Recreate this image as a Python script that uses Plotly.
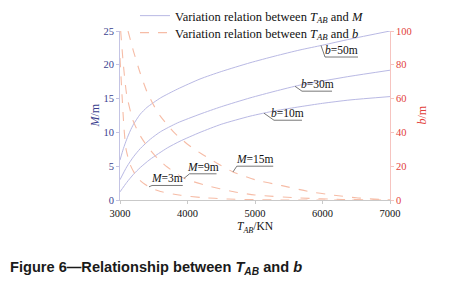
import numpy as np
import plotly.graph_objects as go

# ---- data ----
# M (m) versus T_AB (kN) for fixed b
T_b10 = [3000, 3100, 3200, 3300, 3444, 3700, 3889, 4185, 4500, 4926, 5300, 5667, 6000, 6407, 7000]
M_b10 = [1.2, 2.6, 3.8, 4.8, 6.0, 7.7, 8.7, 10.0, 11.2, 12.4, 13.2, 13.8, 14.3, 14.8, 15.3]
T_b30 = [3000, 3100, 3200, 3300, 3450, 3600, 3850, 4185, 4500, 4926, 5300, 5667, 6000, 6407, 7000]
M_b30 = [3.0, 4.9, 6.4, 7.6, 9.0, 10.1, 11.4, 12.7, 13.8, 15.1, 16.1, 17.0, 17.6, 18.3, 19.2]
T_b50 = [3000, 3050, 3100, 3150, 3200, 3300, 3400, 3600, 3850, 4185, 4500, 4926, 5300, 5667, 6000, 6407, 7000]
M_b50 = [5.9, 7.6, 9.0, 10.2, 11.2, 12.7, 13.7, 15.1, 16.4, 17.9, 19.0, 20.3, 21.3, 22.2, 22.9, 23.8, 25.0]

# b (m) versus T_AB (kN) for fixed M
T_M3 = [3000, 3030, 3060, 3090, 3150, 3220, 3300, 3440, 3600, 3900, 4200, 4600, 5000, 5500, 6000, 7000]
b_M3 = [84, 62, 42, 30, 21, 15.5, 11.5, 7.5, 5.0, 2.8, 1.5, 0.6, 0.2, 0.0, 0.0, 0.0]
T_M9 = [3010, 3050, 3100, 3193, 3300, 3400, 3548, 3700, 3948, 4290, 4670, 5000, 5670, 6300, 7000]
b_M9 = [100, 80, 62, 47, 38, 32, 25, 19.5, 12.8, 8.5, 5.0, 3.0, 1.2, 0.3, 0.0]
T_M15 = [3119, 3200, 3300, 3400, 3500, 3600, 3800, 4000, 4200, 4450, 4674, 5000, 5400, 5800, 6140, 6500, 6880, 7000]
b_M15 = [100, 88, 75, 64, 56, 49.5, 40, 33, 27.5, 21.5, 16.6, 12, 8.5, 5, 3, 1.3, 0.3, 0.0]

x_ticks = [3000, 4000, 5000, 6000, 7000]
m_ticks = [0, 5, 10, 15, 20, 25]
b_ticks = [0, 20, 40, 60, 80, 100]

SERIF = "Liberation Serif, Times New Roman, serif"
BLUE_LINE = "#b9b9e4"
ORANGE_LINE = "#f6bca6"
BLUE_TXT = "#3b3f8f"
RED_TXT = "#e2403a"

fig = go.Figure()

blue = [(T_b10, M_b10), (T_b30, M_b30), (T_b50, M_b50)]
for i, (t, m) in enumerate(blue):
    fig.add_trace(go.Scatter(
        x=t, y=m, mode="lines", line=dict(color=BLUE_LINE, width=1, shape="spline", smoothing=0.6),
        name="Variation relation between <i>T<sub>AB</sub></i> and <i>M</i>",
        showlegend=(i == 0), legend="legend"))

orange = [(T_M3, b_M3), (T_M9, b_M9), (T_M15, b_M15)]
for i, (t, b) in enumerate(orange):
    fig.add_trace(go.Scatter(
        x=t, y=b, mode="lines", yaxis="y2",
        line=dict(color=ORANGE_LINE, width=1.1, dash="dash", shape="spline", smoothing=0.6),
        name="Variation relation between <i>T<sub>AB</sub></i> and <i>b</i>",
        showlegend=(i == 0), legend="legend2"))

# ---- curve labels with leader lines ----
def leader(curve_t, curve_y, t_pt, t_corner, y_corner, t_end, yref, label):
    y_pt = float(np.interp(t_pt, curve_t, curve_y))
    fig.add_shape(type="path", xref="x", yref=yref,
                  path=f"M {t_pt},{y_pt} L {t_corner},{y_corner} L {t_end},{y_corner}",
                  line=dict(color="#555555", width=0.8))
    fig.add_annotation(x=(t_corner + t_end) / 2, y=y_corner, xref="x", yref=yref,
                       text=label, showarrow=False, yanchor="bottom", yshift=-1,
                       font=dict(family=SERIF, size=11.5, color="#111111"))

leader(T_b50, M_b50, 5978, 6037, 21.15, 6526, "y", "<i>b</i>=50m")
leader(T_b30, M_b30, 5593, 5696, 16.1, 6141, "y", "<i>b</i>=30m")
leader(T_b10, M_b10, 5133, 5281, 11.8, 5696, "y", "<i>b</i>=10m")
leader(T_M3, b_M3, 3430, 3474, 8.6, 3930, "y2", "<i>M</i>=3m")
leader(T_M9, b_M9, 3948, 4030, 15.5, 4430, "y2", "<i>M</i>=9m")
leader(T_M15, b_M15, 4674, 4730, 20.0, 5270, "y2", "<i>M</i>=15m")

# axis titles (rotated)
fig.add_annotation(xref="paper", yref="paper", x=-0.096, y=0.50, xanchor="center", yanchor="middle",
                   textangle=-90, showarrow=False,
                   text="<i>M</i>/m", font=dict(family=SERIF, size=12, color=BLUE_TXT))
fig.add_annotation(xref="paper", yref="paper", x=1.115, y=0.50, xanchor="center", yanchor="middle",
                   textangle=-90, showarrow=False,
                   text="<i>b</i>/m", font=dict(family=SERIF, size=12, color=RED_TXT))

# caption
fig.add_annotation(xref="paper", yref="paper", x=-0.4148, y=-0.40, xanchor="left", yanchor="middle",
                   text="<b>Figure 6\u2014Relationship between <i>T<sub>AB</sub></i> and <i>b</i></b>",
                   showarrow=False, font=dict(family="Liberation Sans, Arial, sans-serif", size=14.6, color="#1a1a1a"))

leg_common = dict(xref="container", yref="container", xanchor="left", yanchor="middle",
                  bgcolor="rgba(0,0,0,0)", font=dict(family=SERIF, size=12.5, color="#111111"),
                  itemwidth=30)

fig.update_layout(
    width=456, height=281,
    margin=dict(l=112, r=74, t=23, b=89, autoexpand=False),
    paper_bgcolor="white", plot_bgcolor="white",
    showlegend=True,
    legend=dict(x=0.2785, y=0.9715, **leg_common),
    legend2=dict(x=0.2785, y=0.911, **leg_common),
    xaxis=dict(range=[3000, 7000], tickvals=x_ticks, showgrid=False, zeroline=False,
               showline=True, linecolor="#c9c9c9", linewidth=1, ticks="outside", ticklen=3,
               tickcolor="#c9c9c9", tickfont=dict(family=SERIF, size=10.5, color="#111111"),
               title=dict(text="<i>T<sub>AB</sub></i>/KN", font=dict(family=SERIF, size=11.5, color="#111111"),
                          standoff=4)),
    yaxis=dict(range=[0, 25], tickvals=m_ticks, showgrid=False, zeroline=False,
               showline=True, linecolor="#c4c4e4", linewidth=1, ticks="outside", ticklen=3,
               tickcolor="#c4c4e4", tickfont=dict(family=SERIF, size=10.5, color=BLUE_TXT)),
    yaxis2=dict(range=[0, 100], tickvals=b_ticks, overlaying="y", side="right", showgrid=False,
                zeroline=False, showline=True, linecolor="#f6c4c0", linewidth=1, ticks="outside",
                ticklen=3, tickcolor="#f6c4c0", tickfont=dict(family=SERIF, size=10.5, color=RED_TXT)),
)

fig.write_html("out.html")
